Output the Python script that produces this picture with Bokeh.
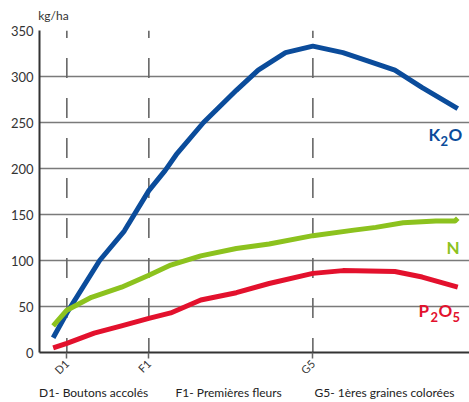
import math
from bokeh.plotting import figure
from bokeh.models import Label, FixedTicker, Range1d, LinearAxis
from bokeh.embed import file_html
from bokeh.resources import INLINE

# stage positions (days) and labels
stage_x = [10, 40, 100]
stage_labels = ["D1", "F1", "G5"]
caption_x = [19.8, 69.2, 126.2]
stage_captions = ["D1- Boutons accolés", "F1- Premières fleurs", "G5- 1ères graines colorées"]

# K2O uptake (kg/ha)
k_x = [5, 10, 22, 31, 40, 46, 50, 60, 72, 80, 90, 100, 111, 120, 130, 140, 153]
k_y = [16, 43, 100, 132, 176, 198, 215, 250, 285, 307, 326, 333, 326, 317, 307, 288, 265]

# N uptake
n_x = [5, 10, 19, 30, 40, 48, 59, 72, 84, 100, 115, 123, 133, 145, 152, 153]
n_y = [29, 46, 60, 71, 84, 95, 105, 113, 118, 127, 133, 136, 141, 143, 143, 146]

# P2O5 uptake
p_x = [5, 10, 20, 30, 40, 48, 59, 72, 84, 100, 111, 130, 140, 153]
p_y = [5, 10, 21, 29, 37, 43, 57, 65, 75, 86, 89, 88, 82, 71]

y_ticks = [0, 50, 100, 150, 200, 250, 300, 350]

BLUE = "#0b4c9b"
GREEN = "#8cc21e"
RED = "#e3112d"
FONT = "Lato"

p = figure(width=469, height=402, output_backend="svg", toolbar_location=None,
           x_range=Range1d(0, 157.3), y_range=Range1d(0, 350),
           min_border_left=39, min_border_right=0, min_border_top=30, min_border_bottom=50)
p.outline_line_color = None
p.background_fill_color = "white"

# axes
p.yaxis.ticker = FixedTicker(ticks=y_ticks)
p.yaxis.major_tick_out = 0
p.yaxis.major_tick_in = 0
p.yaxis.minor_tick_line_color = None
p.yaxis.axis_line_color = "#333333"
p.yaxis.axis_line_width = 2
p.yaxis.major_label_text_font = FONT
p.yaxis.major_label_text_font_size = "13px"
p.yaxis.major_label_text_color = "#333333"
p.yaxis.major_label_text_baseline = "bottom"
p.yaxis.major_label_standoff = 6

p.xaxis.ticker = FixedTicker(ticks=stage_x)
p.xaxis.major_label_overrides = {x: l for x, l in zip(stage_x, stage_labels)}
p.xaxis.major_label_orientation = math.pi / 4
p.xaxis.major_tick_out = 6
p.xaxis.major_tick_in = 0
p.xaxis.major_tick_line_color = "#666666"
p.xaxis.major_tick_line_width = 1.5
p.xaxis.minor_tick_line_color = None
p.xaxis.axis_line_color = "#333333"
p.xaxis.axis_line_width = 2
p.xaxis.major_label_text_font = FONT
p.xaxis.major_label_text_font_size = "11px"
p.xaxis.major_label_text_color = "#333333"
p.xaxis.major_label_standoff = 3

# caption axis (stage descriptions)
cap = LinearAxis(ticker=FixedTicker(ticks=caption_x),
                 major_label_overrides={x: t for x, t in zip(caption_x, stage_captions)})
cap.axis_line_color = None
cap.major_tick_line_color = None
cap.minor_tick_line_color = None
cap.major_tick_out = 0
cap.major_tick_in = 0
cap.major_label_standoff = 0
cap.major_label_text_font = FONT
cap.major_label_text_font_size = "12px"
cap.major_label_text_color = "#222222"
p.add_layout(cap, "below")

# unit axis on top (kg/ha)
unit = LinearAxis(ticker=FixedTicker(ticks=[5.1]), major_label_overrides={5.1: "kg/ha"})
unit.axis_line_color = None
unit.major_tick_line_color = None
unit.minor_tick_line_color = None
unit.major_tick_out = 0
unit.major_tick_in = 0
unit.major_label_standoff = 8
unit.major_label_text_font = FONT
unit.major_label_text_font_size = "12px"
unit.major_label_text_color = "#333333"
p.add_layout(unit, "above")

p.xgrid.grid_line_color = None
p.ygrid.ticker = FixedTicker(ticks=y_ticks)
p.ygrid.grid_line_color = "#7a7a7a"
p.ygrid.grid_line_width = 1.4

# vertical dashed stage lines
p.segment(x0=stage_x, y0=[-6] * 3, x1=stage_x, y1=[350] * 3,
          line_color="#666666", line_width=1.6, line_dash="20 20")

# curves
p.line(k_x, k_y, line_color=BLUE, line_width=5, line_join="round")
p.line(n_x, n_y, line_color=GREEN, line_width=5, line_join="round")
p.line(p_x, p_y, line_color=RED, line_width=5, line_join="round")


def xd(px):
    return (px - 39) / 2.733


def yd(py):
    return (352 - py) / 0.92


def lab(text, px, py, color, size, bold=True, font=FONT):
    p.add_layout(Label(x=xd(px), y=yd(py), text=text, text_color=color,
                       text_font=font, text_font_size=size,
                       text_font_style="bold" if bold else "normal",
                       text_align="left", text_baseline="alphabetic"))


# series labels with subscripts
lab("K", 428, 134, BLUE, "17px")
lab("2", 440, 140, BLUE, "13px")
lab("O", 448, 134, BLUE, "17px")
lab("N", 446, 247, GREEN, "17px")
lab("P", 418, 310, RED, "17px")
lab("2", 430, 316, RED, "13px")
lab("O", 438, 310, RED, "17px")
lab("5", 452, 316, RED, "13px")

open("out.html", "w").write(file_html(p, INLINE))
